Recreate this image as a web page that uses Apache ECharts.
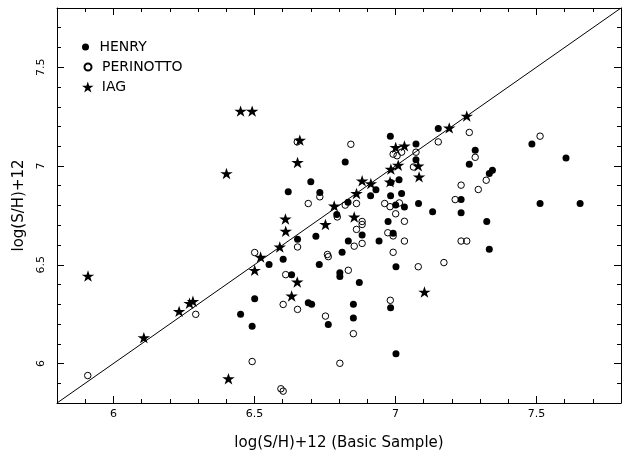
<!DOCTYPE html>
<html>
<head>
<meta charset="utf-8">
<script src="https://cdn.jsdelivr.net/npm/echarts@6/dist/echarts.min.js"></script>
<style>
html,body{margin:0;padding:0;background:#fff;}
#chart{width:622px;height:459px;}
</style>
</head>
<body>
<div id="chart"></div>
<script>
// ---- data ----
var henry = [
  [6.451,6.250],[6.492,6.189],[6.501,6.328],[6.552,6.501],[6.602,6.528],[6.632,6.450],
  [6.653,6.629],[6.691,6.308],[6.703,6.300],[6.718,6.644],[6.730,6.501],[6.620,6.870],
  [6.700,6.920],[6.732,6.866],[6.822,7.020],[6.982,7.151],[7.073,7.111],[7.073,7.032],
  [7.152,7.190],[6.832,6.817],[6.792,6.754],[6.931,6.880],[6.912,6.850],[7.013,6.930],
  [7.022,6.861],[6.983,6.850],[6.984,6.916],[7.001,6.802],[7.032,6.792],[7.082,6.810],
  [6.882,6.651],[6.833,6.620],[6.942,6.620],[6.974,6.719],[6.992,6.660],[6.811,6.563],
  [7.283,7.080],[7.262,7.009],[7.344,6.979],[7.333,6.962],[7.484,7.111],[7.605,7.041],
  [7.513,6.810],[7.655,6.810],[7.233,6.830],[7.233,6.763],[7.324,6.719],[7.132,6.768],
  [7.333,6.578],[6.803,6.460],[6.803,6.441],[6.872,6.410],[7.002,6.490],[6.851,6.300],
  [6.851,6.231],[6.762,6.198],[6.983,6.282],[7.002,6.049]
];
var perinotto = [
  [5.909,5.939],[6.292,6.249],[6.492,6.010],[6.501,6.562],[6.602,6.299],[6.611,6.450],
  [6.653,6.590],[6.653,6.274],[6.594,5.872],[6.602,5.860],[6.652,7.122],[6.691,6.810],
  [6.842,7.110],[6.732,6.844],[6.822,6.802],[6.862,6.810],[6.794,6.742],[6.882,6.719],
  [6.882,6.704],[6.862,6.679],[6.854,6.594],[6.882,6.608],[6.962,6.810],[6.981,6.794],
  [7.001,6.758],[7.014,6.813],[7.032,6.720],[6.973,6.662],[6.992,6.646],[7.032,6.620],
  [6.992,6.563],[6.992,7.060],[7.006,7.052],[7.022,7.070],[7.073,7.070],[7.064,6.995],
  [6.759,6.552],[7.262,7.170],[7.513,7.151],[7.152,7.122],[7.283,7.044],[7.233,6.903],
  [7.322,6.928],[7.294,6.881],[7.212,6.830],[7.233,6.620],[7.253,6.620],[6.762,6.541],
  [6.833,6.472],[7.081,6.490],[7.172,6.511],[6.982,6.320],[6.752,6.240],[6.851,6.151],
  [6.803,6.001]
];
var iag = [
  [5.910,6.443],[6.108,6.131],[6.233,6.264],[6.270,6.305],[6.282,6.315],[6.408,5.923],
  [6.401,6.962],[6.451,7.278],[6.492,7.278],[6.501,6.472],[6.522,6.539],[6.590,6.590],
  [6.610,6.732],[6.611,6.670],[6.632,6.342],[6.652,6.413],[6.653,7.018],[6.661,7.131],
  [6.752,6.704],[6.783,6.798],[6.854,6.742],[6.862,6.861],[6.882,6.925],[6.913,6.911],
  [6.981,6.920],[6.984,6.984],[7.010,7.004],[7.001,7.094],[7.032,7.102],[7.081,7.001],
  [7.084,6.945],[7.103,6.362],[7.191,7.193],[7.253,7.253]
];
var diagonal = [[5.8,5.8],[7.8,7.8]];
var seriesNames = ['HENRY','PERINOTTO','IAG'];
var xTitle = 'log(S/H)+12 (Basic Sample)';
var yTitle = 'log(S/H)+12';
var xRange = [5.8, 7.8];
var yRange = [5.8, 7.8];
var xMajor = [6, 6.5, 7, 7.5];
var yMajor = [6, 6.5, 7, 7.5];
var xMinor = [5.9,6.1,6.2,6.3,6.4,6.6,6.7,6.8,6.9,7.1,7.2,7.3,7.4,7.6,7.7];
var yMinor = [5.9,6.1,6.2,6.3,6.4,6.6,6.7,6.8,6.9,7.1,7.2,7.3,7.4,7.6,7.7];

// ---- chart ----
var FONT = 'DejaVu Sans';
var STAR = 'path://M50,0 L61.2,34.5 L97.6,34.5 L68.2,55.9 L79.4,90.5 L50,69.1 L20.6,90.5 L31.8,55.9 L2.4,34.5 L38.8,34.5 Z';

function mkAxis(range, pos, ticks, len, labelVals, extra) {
  var a = {
    type: 'value', min: range[0], max: range[1], position: pos,
    axisLine: {show: true, onZero: false, lineStyle: {color: '#000', width: 1}},
    axisTick: {show: true, inside: true, length: len, customValues: ticks,
               lineStyle: {color: '#000', width: 1}},
    axisLabel: labelVals ? {show: true, customValues: labelVals} : {show: false},
    splitLine: {show: false}
  };
  if (extra) for (var k in extra) a[k] = extra[k];
  return a;
}

var chart = echarts.init(document.getElementById('chart'), null, {renderer: 'canvas'});
var xMain = mkAxis(xRange, 'bottom', xMajor, 7, xMajor, {
  name: xTitle, nameLocation: 'middle', nameGap: 33,
  nameTextStyle: {fontFamily: FONT, fontSize: 15, color: '#000'}
});
xMain.axisLabel.fontFamily = FONT; xMain.axisLabel.fontSize = 11;
xMain.axisLabel.color = '#000'; xMain.axisLabel.margin = 6;
var yMain = mkAxis(yRange, 'left', yMajor, 7, yMajor, {
  name: yTitle, nameLocation: 'middle', nameGap: 30,
  nameTextStyle: {fontFamily: FONT, fontSize: 15, color: '#000'}
});
yMain.axisLabel.fontFamily = FONT; yMain.axisLabel.fontSize = 11;
yMain.axisLabel.color = '#000'; yMain.axisLabel.margin = 10; yMain.axisLabel.rotate = 90;

var legendText = {fontFamily: FONT, fontSize: 14, color: '#000'};
var option = {
  animation: false,
  backgroundColor: '#fff',
  grid: {left: 57, right: 1, top: 8, bottom: 56, containLabel: false},
  legend: [
    {data: [seriesNames[0]], orient: 'vertical', left: 77, top: 35, itemWidth: 18, itemHeight: 7,
     textStyle: legendText, selectedMode: false},
    {data: [seriesNames[1]], orient: 'vertical', left: 77, top: 55, itemWidth: 18, itemHeight: 7,
     textStyle: legendText, selectedMode: false},
    {data: [seriesNames[2]], orient: 'vertical', left: 77, top: 75, itemWidth: 18, itemHeight: 11,
     textStyle: legendText, selectedMode: false}
  ],
  xAxis: [
    xMain,
    mkAxis(xRange, 'bottom', xMinor, 4, null, {axisLine: {show: false}}),
    mkAxis(xRange, 'top', xMajor, 7, null),
    mkAxis(xRange, 'top', xMinor, 4, null, {axisLine: {show: false}})
  ],
  yAxis: [
    yMain,
    mkAxis(yRange, 'left', yMinor, 4, null, {axisLine: {show: false}}),
    mkAxis(yRange, 'right', yMajor, 7, null),
    mkAxis(yRange, 'right', yMinor, 4, null, {axisLine: {show: false}})
  ],
  series: [
    {type: 'line', data: diagonal, symbol: 'none', silent: true,
     lineStyle: {color: '#000', width: 1}, z: 1},
    {name: seriesNames[0], type: 'scatter', data: henry, symbol: 'circle', symbolSize: 7,
     itemStyle: {color: '#000', opacity: 1}, z: 3},
    {name: seriesNames[1], type: 'scatter', data: perinotto, symbol: 'circle', symbolSize: 6.5,
     itemStyle: {color: 'none', borderColor: '#000', borderWidth: 1, opacity: 1}, z: 3},
    {name: seriesNames[2], type: 'scatter', data: iag, symbol: STAR, symbolKeepAspect: true,
     symbolSize: [12.5, 12], itemStyle: {color: '#000', opacity: 1}, z: 4}
  ]
};
chart.setOption(option);
</script>
</body>
</html>
